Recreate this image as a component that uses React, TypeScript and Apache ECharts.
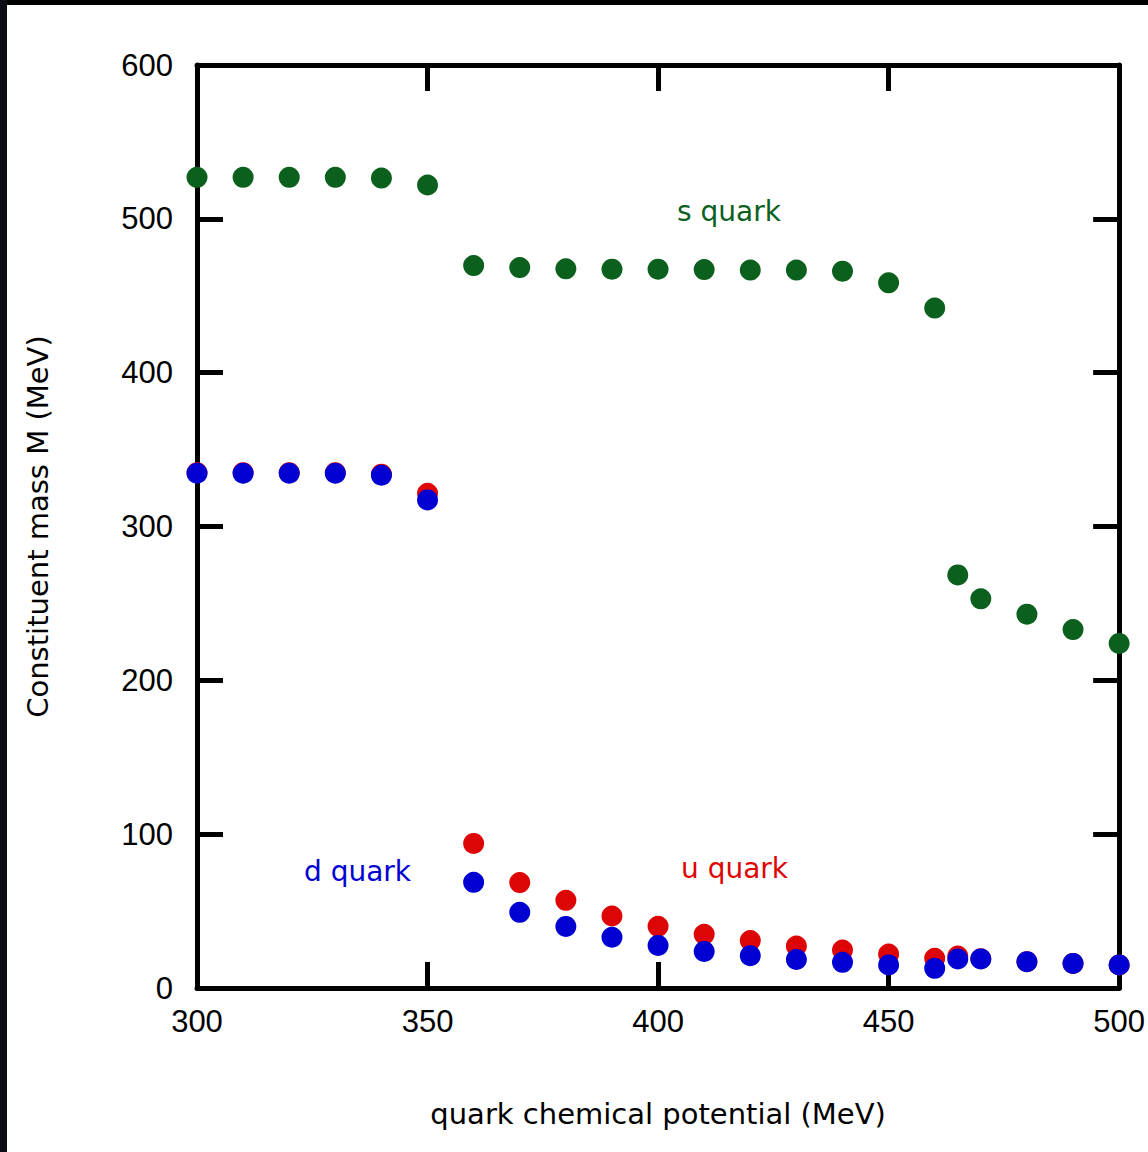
import React, { useEffect, useRef } from "react";
import * as echarts from "echarts";

const muValues = [300, 310, 320, 330, 340, 350, 360, 370, 380, 390, 400, 410, 420, 430, 440, 450, 460, 465, 470, 480, 490, 500];
const sQuark = [527, 527, 527, 527, 526.5, 522, 469.6, 468.3, 467.5, 467.3, 467.3, 467, 466.7, 466.7, 466, 458.4, 442, 268.5, 253, 243, 233, 224];
const uQuark = [335, 335, 335, 335, 334, 321.6, 94, 68.5, 57, 46.8, 40.1, 34.9, 30.8, 27.3, 24.7, 22.1, 19.3, 20.8, 19, 17.1, 16, 15];
const dQuark = [334.6, 334.6, 334.6, 334.6, 333.3, 317.3, 68.7, 49.2, 40, 33, 27.7, 23.8, 21, 18.6, 16.7, 15, 12.8, 18.9, 18.9, 17.1, 16, 15];
const xTicks = [300, 350, 400, 450, 500];
const yTicks = [0, 100, 200, 300, 400, 500, 600];

const GREEN = "#0b601e";
const RED = "#dd0505";
const BLUE = "#0000d2";
const TITLE_FONT = "DejaVu Sans, sans-serif";

export default function App() {
  const ref = useRef<HTMLDivElement>(null);
  useEffect(() => {
    const chart = echarts.init(ref.current!, null, { renderer: "svg" });
    const pair = (ys: number[]) => muValues.map((x, i) => [x, ys[i]]);
    const axisLine = { show: true, onZero: false, lineStyle: { color: "#000", width: 5 } };
    const axisTick = { show: true, inside: true, length: 26, lineStyle: { color: "#000", width: 5 } };
    const labelFont = { fontFamily: "Liberation Sans, Arial, sans-serif", fontSize: 31, color: "#000" };
    chart.setOption({
      animation: false,
      backgroundColor: "#fff",
      grid: { left: 197, top: 65, width: 924, height: 923, containLabel: false },
      xAxis: [
        {
          type: "value", min: 300, max: 500, interval: 50, position: "bottom",
          axisLine, axisTick, splitLine: { show: false },
          axisLabel: { ...labelFont, margin: 18, formatter: (v: number) => (xTicks.includes(v) ? String(v) : "") },
          name: "quark chemical potential (MeV)", nameLocation: "middle", nameGap: 111,
          nameTextStyle: { fontFamily: TITLE_FONT, fontSize: 29, color: "#000" },
        },
        {
          type: "value", min: 300, max: 500, interval: 50, position: "top",
          axisLine, axisTick, splitLine: { show: false }, axisLabel: { show: false },
        },
      ],
      yAxis: [
        {
          type: "value", min: 0, max: 600, interval: 100, position: "left",
          axisLine, axisTick, splitLine: { show: false },
          axisLabel: { ...labelFont, margin: 24, formatter: (v: number) => (yTicks.includes(v) ? String(v) : "") },
          name: "Constituent mass M (MeV)", nameLocation: "middle", nameGap: 145, nameRotate: 90,
          nameTextStyle: { fontFamily: TITLE_FONT, fontSize: 29, color: "#000" },
        },
        {
          type: "value", min: 0, max: 600, interval: 100, position: "right",
          axisLine, axisTick, splitLine: { show: false }, axisLabel: { show: false },
        },
      ],
      series: [
        { type: "scatter", name: "s quark", data: pair(sQuark), symbolSize: 21, itemStyle: { color: GREEN, opacity: 1 }, z: 3 },
        { type: "scatter", name: "u quark", data: pair(uQuark), symbolSize: 21, itemStyle: { color: RED, opacity: 1 }, z: 4 },
        { type: "scatter", name: "d quark", data: pair(dQuark), symbolSize: 21, itemStyle: { color: BLUE, opacity: 1 }, z: 5 },
      ],
      graphic: [
        { type: "rect", left: 0, top: 0, shape: { width: 1148, height: 5 }, style: { fill: "#000" }, z: 100 },
        { type: "rect", left: 0, top: 0, shape: { width: 7, height: 1152 }, style: { fill: "#0c0c14" }, z: 100 },
        { type: "text", left: 677, top: 197, style: { text: "s quark", fill: GREEN, font: "28px 'DejaVu Sans', sans-serif" }, z: 50 },
        { type: "text", left: 304, top: 857, style: { text: "d quark", fill: BLUE, font: "28px 'DejaVu Sans', sans-serif" }, z: 50 },
        { type: "text", left: 681, top: 854, style: { text: "u quark", fill: RED, font: "28px 'DejaVu Sans', sans-serif" }, z: 50 },
      ],
    });
    return () => chart.dispose();
  }, []);
  return (
    <div style={{ position: "fixed", left: 0, top: 0, width: 1148, height: 1152, background: "#fff" }}>
      <div ref={ref} style={{ width: 1148, height: 1152 }} />
    </div>
  );
}
